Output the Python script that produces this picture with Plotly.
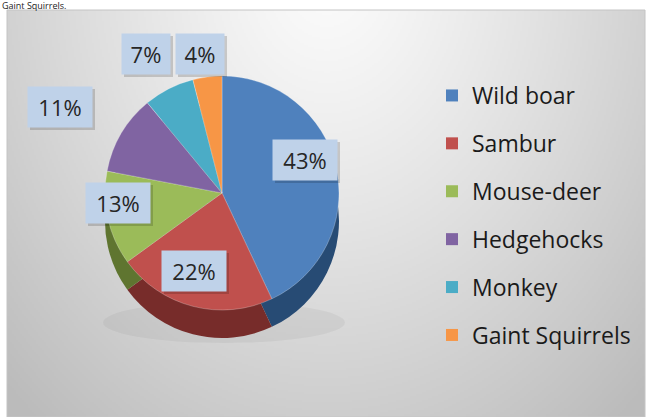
import base64, zlib, struct
import numpy as np
import plotly.graph_objects as go

# ---- data ----
labels = ["Wild boar", "Sambur", "Mouse-deer", "Hedgehocks", "Monkey", "Gaint Squirrels"]
values = [43, 22, 13, 11, 7, 4]
colors = ["#4F81BD", "#C0504D", "#9BBB59", "#8064A2", "#4BACC6", "#F79646"]
side_colors = ["#274B74", "#772C2A", "#5F7530", "#4D3B62", "#276A7C", "#B65708"]

W, H = 650, 417

# ---- gradient background image ----
def make_png(arr):
    h, w, _ = arr.shape
    raw = b"".join(b"\x00" + arr[i].tobytes() for i in range(h))
    def chunk(t, d):
        c = struct.pack(">I", len(d)) + t + d
        return c + struct.pack(">I", zlib.crc32(t + d) & 0xffffffff)
    png = b"\x89PNG\r\n\x1a\n"
    png += chunk(b"IHDR", struct.pack(">IIBBBBB", w, h, 8, 2, 0, 0, 0))
    png += chunk(b"IDAT", zlib.compress(raw, 9))
    png += chunk(b"IEND", b"")
    return "data:image/png;base64," + base64.b64encode(png).decode()

gw, gh = 319, 204
yy, xx = np.mgrid[0:gh, 0:gw]
cx, cy = gw * 0.5, -gh * 0.1
d = np.sqrt(((xx - cx) / (gw * 0.6)) ** 2 + ((yy - cy) / (gh * 1.2)) ** 2)
d = np.clip(d, 0, 1.2)
val = 252 - 52 * d ** 1.2
arr = np.stack([val, val, val], axis=-1).clip(0, 255).astype(np.uint8)
bg_src = make_png(arr)

def px(x):
    return x / W

def py(y):
    return 1 - y / H

fig = go.Figure()

# 3D side (darker pie shifted down)
R = 117
cxp, cyp = 222, 193
depth = 28
fig.add_trace(go.Pie(
    labels=labels, values=values, sort=False, direction="clockwise", rotation=0,
    marker=dict(colors=side_colors, line=dict(width=0)),
    textinfo="none", hoverinfo="skip", showlegend=False,
    domain=dict(x=[px(cxp - R), px(cxp + R)], y=[py(cyp + depth + R), py(cyp + depth - R)]),
))
fig.add_trace(go.Pie(
    labels=labels, values=values, sort=False, direction="clockwise", rotation=0,
    marker=dict(colors=colors, line=dict(width=0.5, color="rgba(255,255,255,0.5)")),
    textinfo="none", showlegend=False,
    domain=dict(x=[px(cxp - R), px(cxp + R)], y=[py(cyp + R), py(cyp - R)]),
))

# legend entries
for lab, col in zip(labels, colors):
    fig.add_trace(go.Scatter(
        x=[None], y=[None], mode="markers", name=lab, legendgroup=lab,
        marker=dict(symbol="square", size=12, color=col),
    ))

# data labels (boxes with shadow)
label_pos = [(305, 160), (194, 271), (118, 203), (60, 107), (146, 54), (200, 54)]
annotations = []
shapes = [dict(type="rect", xref="paper", yref="paper", x0=px(7), x1=px(645),
               y0=py(417), y1=py(10), line=dict(color="#c4c4c4", width=1), layer="below"),
          dict(type="circle", xref="paper", yref="paper",
               x0=px(cxp - R - 2), x1=px(cxp + R + 6), y0=py(cyp + depth + R + 5), y1=py(cyp + depth + R - 36),
               fillcolor="rgba(0,0,0,0.045)", line=dict(width=0), layer="below")]
for v, (lx, ly) in zip(values, label_pos):
    w = 54 if v >= 10 else 38
    bw, bh = w + 10, 40
    annotations.append(dict(
        x=px(lx), y=py(ly), xref="paper", yref="paper", text=f"{v}%",
        xanchor="center", yanchor="middle",
        showarrow=False, bgcolor="#BFD2E9", borderpad=5, width=w, height=30,
        font=dict(family="Open Sans", size=22, color="#262626"),
    ))
    shapes.append(dict(type="rect", xref="paper", yref="paper",
                       x0=px(lx - bw / 2 + 2), x1=px(lx + bw / 2 + 3),
                       y0=py(ly + bh / 2 + 3), y1=py(ly - bh / 2 + 2),
                       fillcolor="rgba(0,0,0,0.16)", line=dict(width=0)))
annotations.append(dict(
    x=0, y=py(5), xref="paper", yref="paper", xanchor="left", yanchor="middle",
    text="Gaint Squirrels.", showarrow=False,
    font=dict(family="Open Sans", size=9, color="#222222"),
))

fig.update_layout(
    width=W, height=H,
    margin=dict(l=0, r=0, t=0, b=0),
    paper_bgcolor="white", plot_bgcolor="rgba(0,0,0,0)",
    xaxis=dict(visible=False), yaxis=dict(visible=False),
    images=[dict(source=bg_src, xref="paper", yref="paper", x=px(7), y=py(10),
                 sizex=px(645) - px(7), sizey=py(10) - py(417), sizing="stretch",
                 layer="below", xanchor="left", yanchor="top")],
    shapes=shapes,
    annotations=annotations,
    legend=dict(x=px(432), y=py(74), xanchor="left", yanchor="top",
                font=dict(family="Open Sans", size=23, color="#1a1a1a"),
                tracegroupgap=15, bgcolor="rgba(0,0,0,0)"),
    showlegend=True,
)

fig.write_html("out.html", config={"displayModeBar": False},
               post_script="document.body.style.margin='0';")
